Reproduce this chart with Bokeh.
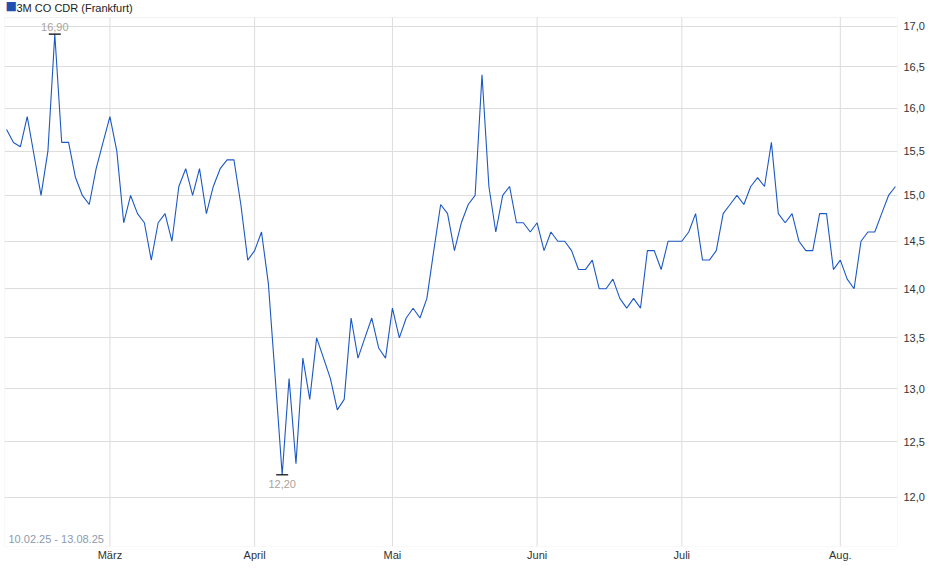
import math
import pandas as pd
from bokeh.plotting import figure
from bokeh.models import (FixedTicker, CustomJSTickFormatter, Label, Range1d,
                          BoxAnnotation)
from bokeh.core.properties import value
from bokeh.embed import file_html
from bokeh.resources import INLINE

# ---- data -------------------------------------------------------------
title_text = "3M CO CDR (Frankfurt)"
period_text = "10.02.25 - 13.08.25"
holidays = ["2025-04-18", "2025-04-21", "2025-05-01"]
dates = pd.bdate_range("2025-02-10", "2025-08-13", freq="C", holidays=holidays)

close = [15.75, 15.6, 15.55, 15.9, 15.45, 15.0, 15.5, 16.9, 15.6, 15.6,
         15.2, 15.0, 14.9, 15.3, 15.6, 15.9, 15.5, 14.7, 15.0, 14.8,
         14.7, 14.3, 14.7, 14.8, 14.5, 15.1, 15.3, 15.0, 15.3, 14.8,
         15.1, 15.3, 15.4, 15.4, 14.9, 14.3, 14.4, 14.6, 14.05, 13.1,
         12.2, 13.1, 12.3, 13.3, 12.9, 13.5, 13.3, 13.1, 12.8, 12.9,
         13.7, 13.3, 13.5, 13.7, 13.4, 13.3, 13.8, 13.5, 13.7, 13.8,
         13.7, 13.9, 14.4, 14.9, 14.8, 14.4, 14.7, 14.9, 15.0, 16.4,
         15.1, 14.6, 15.0, 15.1, 14.7, 14.7, 14.6, 14.7, 14.4, 14.6,
         14.5, 14.5, 14.4, 14.2, 14.2, 14.3, 14.0, 14.0, 14.1, 13.9,
         13.8, 13.9, 13.8, 14.4, 14.4, 14.2, 14.5, 14.5, 14.5, 14.6,
         14.8, 14.3, 14.3, 14.4, 14.8, 14.9, 15.0, 14.9, 15.1, 15.2,
         15.1, 15.6, 14.8, 14.7, 14.8, 14.5, 14.4, 14.4, 14.8, 14.8,
         14.2, 14.3, 14.1, 14.0, 14.5, 14.6, 14.6, 14.8, 15.0, 15.1]

month_labels = ["März", "April", "Mai", "Juni", "Juli", "Aug."]
y_ticks = [12.0, 12.5, 13.0, 13.5, 14.0, 14.5, 15.0, 15.5, 16.0, 16.5, 17.0]

n = min(len(dates), len(close))
idx = list(range(n))
close = close[:n]

month_idx = [i for i in range(1, n) if dates[i].month != dates[i - 1].month]
month_map = {i: lab for i, lab in zip(month_idx, month_labels)}

i_max = max(idx, key=lambda i: close[i])
i_min = min(idx, key=lambda i: close[i])

def de(v):
    return f"{v:.2f}".replace(".", ",")

# ---- layout constants ---------------------------------------------------
FONT = "Liberation Sans"
Y0, Y1 = 11.57, 17.11          # plot box value range
X0, X1 = -0.3, n - 1 + 0.3
BOX_H, HEAD_H = 529, 17        # px height of the plot box, px header strip
YT = Y0 * math.exp(math.log(Y1 / Y0) * (BOX_H + HEAD_H) / BOX_H)

p = figure(width=932, height=563, output_backend="svg", toolbar_location=None,
           y_axis_type="log", y_axis_location="right",
           x_range=Range1d(X0, X1), y_range=Range1d(Y0, YT),
           min_border_left=4, min_border_right=35, min_border_top=0,
           min_border_bottom=0, background_fill_color="white",
           border_fill_color="white")
p.outline_line_color = None

# axes
p.xaxis.ticker = FixedTicker(ticks=month_idx)
p.xaxis.major_label_overrides = month_map
p.xaxis.axis_line_color = None
p.xaxis.major_tick_line_color = None
p.xaxis.major_tick_out = 0
p.xaxis.major_tick_in = 0
p.xaxis.minor_tick_line_color = None
p.xaxis.major_label_text_font = FONT
p.xaxis.major_label_text_font_size = "11px"
p.xaxis.major_label_text_color = "#333333"
p.xaxis.major_label_standoff = 2

p.yaxis.ticker = FixedTicker(ticks=y_ticks)
p.yaxis.formatter = CustomJSTickFormatter(code="return tick.toFixed(1).replace('.', ',');")
p.yaxis.axis_line_color = None
p.yaxis.major_tick_line_color = None
p.yaxis.major_tick_out = 0
p.yaxis.major_tick_in = 0
p.yaxis.minor_tick_line_color = None
p.yaxis.major_label_text_font = FONT
p.yaxis.major_label_text_font_size = "11px"
p.yaxis.major_label_text_color = "#333333"
p.yaxis.major_label_standoff = 6

p.xgrid.grid_line_color = None
p.ygrid.ticker = FixedTicker(ticks=y_ticks)
p.ygrid.grid_line_color = "#dddddd"
p.ygrid.minor_grid_line_color = None

# vertical month grid lines, limited to the plot box
p.segment(x0=month_idx, y0=[Y0] * len(month_idx), x1=month_idx,
          y1=[Y1] * len(month_idx), line_color="#dddddd", line_width=1)

# plot box border
p.add_layout(BoxAnnotation(left=X0, right=X1, bottom=Y0, top=Y1,
                           fill_alpha=0, line_color="#cfcfcf", line_width=1))

# series
p.line(x=idx, y=close, line_color="#1c58c4", line_width=1.1)

# high / low markers
p.scatter(x=[i_max, i_min], y=[close[i_max], close[i_min]], marker="dash",
          size=12, line_color="black", line_width=1.2)
p.text(x=[i_max], y=[close[i_max]], text=[de(close[i_max])], text_align="center",
       text_baseline="bottom", y_offset=-3, text_font_size="11px",
       text_color="#aaa39b", text_font=value(FONT))
p.text(x=[i_min], y=[close[i_min]], text=[de(close[i_min])], text_align="center",
       text_baseline="top", y_offset=5, text_font_size="11px",
       text_color="#aaa39b", text_font=value(FONT))

# period label inside box
p.add_layout(Label(x=X0, y=Y0, x_offset=4, y_offset=2, text=period_text,
                   text_baseline="bottom", text_font_size="11px",
                   text_color="#8c9bb0", text_font=FONT))

# header: square marker + title
p.add_layout(Label(x=X0, y=Y1, x_offset=1, y_offset=5, text="■",
                   text_baseline="bottom", text_font_size="12px",
                   text_color="#1f4fb0", text_font="DejaVu Sans"))
p.add_layout(Label(x=X0, y=Y1, x_offset=12, y_offset=4, text=title_text,
                   text_baseline="bottom", text_font_size="11px",
                   text_color="#222222", text_font=FONT))

open("out.html", "w").write(file_html(p, INLINE))
